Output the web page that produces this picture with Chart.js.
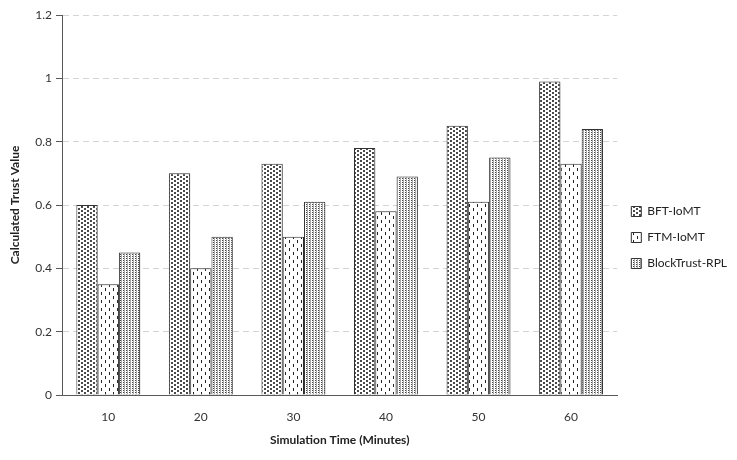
<!DOCTYPE html>
<html>
<head>
<meta charset="utf-8">
<script src="https://cdn.jsdelivr.net/npm/chart.js@4.4.1/dist/chart.umd.min.js"></script>
<style>
  html, body { margin: 0; padding: 0; background: #fff; }
  #wrap { width: 737px; height: 460px; }
</style>
</head>
<body>
<div id="wrap"><canvas id="trustChart" width="737" height="460"></canvas></div>
<script>
// dados
const categories = ["10", "20", "30", "40", "50", "60"];
const bftIoMT = [0.60, 0.70, 0.73, 0.78, 0.85, 0.99];
const ftmIoMT = [0.35, 0.40, 0.50, 0.58, 0.61, 0.73];
const blockTrustRPL = [0.45, 0.50, 0.61, 0.69, 0.75, 0.84];
const seriesNames = ["BFT-IoMT", "FTM-IoMT", "BlockTrust-RPL"];

// padrões de preenchimento (hachuras tipo Excel)
function makePattern(w, h, draw) {
    const c = document.createElement("canvas");
    c.width = w;
    c.height = h;
    const g = c.getContext("2d");
    g.fillStyle = "#fff";
    g.fillRect(0, 0, w, h);
    draw(g);
    return g.createPattern(c, "repeat");
}

const ctx = document.getElementById("trustChart").getContext("2d");

const dotsPattern = makePattern(6, 4, function (g) {
    g.fillStyle = "#4a4a4a";
    g.fillRect(0, 0, 2, 2);
    g.fillRect(3, 2, 2, 2);
});
const dashPattern = makePattern(8, 8, function (g) {
    g.fillStyle = "#222";
    g.fillRect(1, 0, 1, 3);
    g.fillRect(5, 4, 1, 3);
});
const finePattern = makePattern(3, 2, function (g) {
    g.fillStyle = "#aaa";
    g.fillRect(1, 0, 1, 2);
    g.fillStyle = "#444";
    g.fillRect(0, 0, 1, 1);
});

// sombra leve nas barras
const barShadow = {
    id: "barShadow",
    beforeDatasetsDraw: function (chart) {
        const c = chart.ctx;
        c.save();
        c.shadowColor = "rgba(0,0,0,0.22)";
        c.shadowBlur = 2;
        c.shadowOffsetX = 2;
        c.shadowOffsetY = 1;
    },
    afterDatasetsDraw: function (chart) {
        chart.ctx.restore();
    },
};

const font = "Lato, 'Open Sans', sans-serif";

new Chart(ctx, {
    type: "bar",
    data: {
        labels: categories,
        datasets: [
            {
                label: seriesNames[0],
                data: bftIoMT,
                backgroundColor: dotsPattern,
                borderColor: "#333",
                borderWidth: 1,
            },
            {
                label: seriesNames[1],
                data: ftmIoMT,
                backgroundColor: dashPattern,
                borderColor: "#333",
                borderWidth: 1,
            },
            {
                label: seriesNames[2],
                data: blockTrustRPL,
                backgroundColor: finePattern,
                borderColor: "#333",
                borderWidth: 1,
            },
        ],
    },
    plugins: [barShadow],
    options: {
        responsive: false,
        animation: false,
        devicePixelRatio: 1,
        layout: {
            padding: { top: 15, left: 0, right: 0, bottom: 0 },
        },
        datasets: {
            bar: {
                categoryPercentage: 0.69,
                barPercentage: 1,
            },
        },
        plugins: {
            tooltip: { enabled: false },
            legend: {
                position: "right",
                labels: {
                    boxWidth: 10,
                    boxHeight: 10,
                    padding: 14,
                    color: "#222",
                    font: { family: font, size: 12 },
                },
            },
        },
        scales: {
            x: {
                afterFit: function (s) { s.height = 65; },
                grid: { display: false },
                border: { display: true, color: "#595959", width: 1 },
                ticks: {
                    padding: 7,
                    color: "#333",
                    font: { family: font, size: 12 },
                },
                title: {
                    display: true,
                    text: "Simulation Time (Minutes)",
                    color: "#222",
                    font: { family: font, size: 12, weight: "bold" },
                    padding: { top: 0, bottom: 13 },
                },
            },
            y: {
                min: 0,
                max: 1.2,
                afterFit: function (s) { s.width = 62; },
                border: { display: true, color: "#595959", width: 1, dash: [6, 4] },
                grid: {
                    color: "#d4d4d4",
                    tickLength: 6,
                    tickColor: "#595959",
                    tickBorderDash: [],
                },
                ticks: {
                    stepSize: 0.2,
                    padding: 4,
                    color: "#333",
                    font: { family: font, size: 12 },
                    callback: function (v) { return String(Math.round(v * 10) / 10); },
                },
                title: {
                    display: true,
                    text: "Calculated Trust Value",
                    color: "#222",
                    font: { family: font, size: 12, weight: "bold" },
                    padding: { top: 8, bottom: 0 },
                },
            },
        },
    },
});
</script>
</body>
</html>
